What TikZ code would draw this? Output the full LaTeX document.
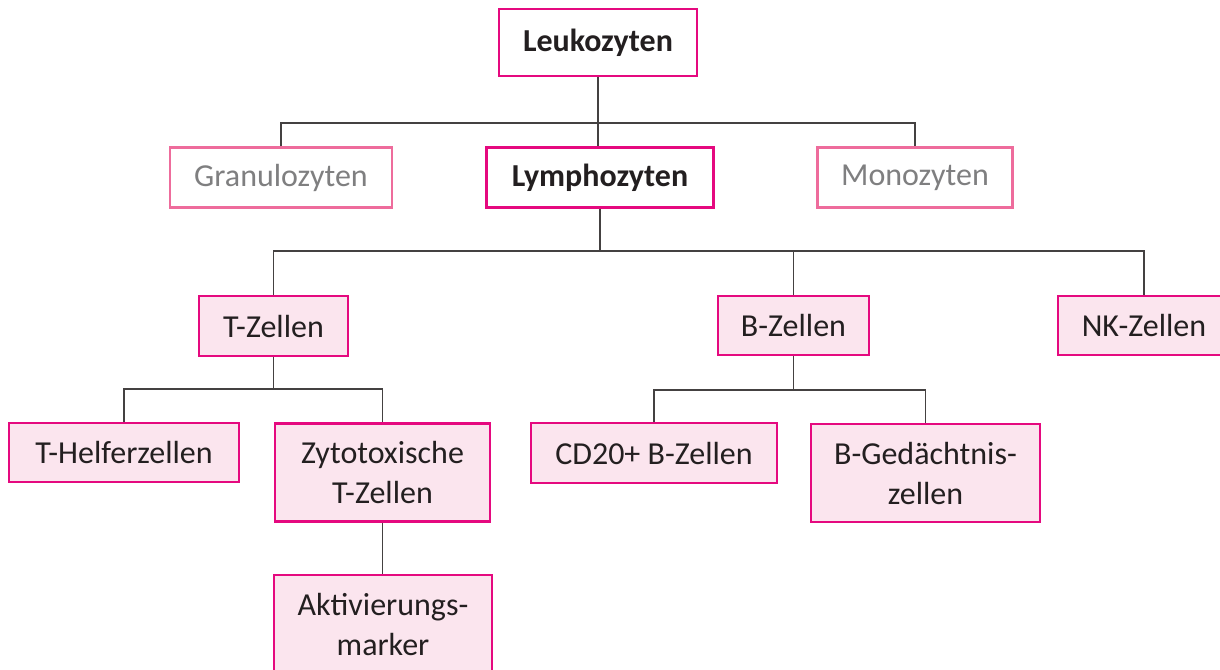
\documentclass[tikz,border=0pt]{standalone}
\usepackage{fontspec}
\setmainfont{Carlito}
\usepackage{xcolor}
\usetikzlibrary{positioning,calc}

\definecolor{zmag}{HTML}{E5097F}
\definecolor{zmaglight}{HTML}{EE6C9C}
\definecolor{zfill}{HTML}{FBE5EE}
\definecolor{ztext}{HTML}{231F20}
\definecolor{zgray}{HTML}{7F7F80}

\tikzset{
	cell/.style={draw=zmag, line width=1.2pt, fill=zfill, text=ztext, inner sep=0pt,
		align=center, font=\fontsize{16}{20}\selectfont},
	headcell/.style={cell, fill=white, font=\fontsize{16}{20}\selectfont\bfseries},
	greycell/.style={cell, draw=zmaglight, fill=white, text=zgray},
	sz/.style 2 args={minimum width=#1*0.5pt, minimum height=#2*0.5pt},
	link/.style={draw=ztext!85, line width=0.75pt}
}

\begin{document}
\begin{tikzpicture}[x=0.5pt, y=-0.5pt]
			\clip (0,0) rectangle (1220,669);
			\fill[white] (0,0) rectangle (1220,669);

			% level 1 and 2
			\node[headcell, sz={198}{67}] (leuko) at(598, 42.5){Leukozyten};
			\node[greycell, sz={222}{60}] (gran) at(281, 177.5){Granulozyten};
			\node[headcell, sz={227}{60}] (lympho) at(600, 177.5){Lymphozyten};
			\node[greycell, sz={195}{60}] (mono) at(915, 177.5){Monozyten};

			% lymphocyte groups
			\node[cell, sz={149}{60}] (tz) at(273.5, 326){T-Zellen};
			\node[cell, sz={151}{59}] (bz) at(793.5, 325.5){B-Zellen};
			\node[cell, sz={172}{59}] (nk) at(1144, 325.5){NK-Zellen};

			% subtypes
			\node[cell, sz={230}{59}] (th) at(124, 452.5){T-Helferzellen};
			\node[cell, sz={215}{98}] (zt) at(382.5, 472.5){Zytotoxische\\T-Zellen};
			\node[cell, sz={218}{98}] (ak) at(383, 624){Aktivierungs-\\marker};
			\node[cell, sz={246}{60}] (cd) at(654, 453){CD20+ B-Zellen};
			\node[cell, sz={229}{98}] (bg) at(925.5, 473){B-Gedächtnis-\\zellen};

			\coordinate (bar1) at (leuko.south |- 0,123);
			\coordinate (bar2) at (lympho.south |- 0,251);
			\coordinate (bar3) at (tz.south |- 0,389);
			\coordinate (bar4) at (bz.south |- 0,390);

			\draw[link](leuko.south) to (bar1);
			\draw[link](gran.north) |- (bar1) -| (mono.north);
			\draw[link](bar1) to (bar1 |- lympho.north);

			\draw[link](lympho.south) to (bar2);
			\draw[link](tz.north) |- (bar2) -| (nk.north);
			\draw[link](bz.north) |- (bar2);

			\draw[link](tz.south) to (bar3);
			\draw[link](th.north) |- (bar3) -| (zt.north);
			\draw[link](zt.south) to (zt.south |- ak.north);

			\draw[link](bz.south) to (bar4);
			\draw[link](cd.north) |- (bar4) -| (bg.north);
		\end{tikzpicture}
\end{document}
